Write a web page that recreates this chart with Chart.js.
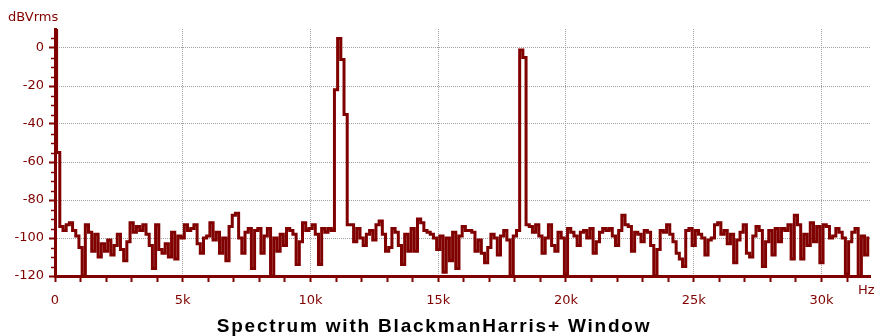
<!DOCTYPE html>
<html><head><meta charset="utf-8">
<script src="https://cdn.jsdelivr.net/npm/chart.js@4.4.0/dist/chart.umd.min.js"></script>
<style>html,body{margin:0;padding:0;background:#fff;overflow:hidden}</style>
</head><body>
<canvas id="c" width="876" height="336"></canvas>
<script>
// ---- data ----
const binWidthHz = 125;               // spacing of the spectrum bins
const levelDb = [
  10, -55, -94,
  -96, -93, -92, -96, -99, -105, -120, -93, -97, -107, -98, -110, -103, -107, -101, -109, -104, -98, -106, -112,
  -102, -92, -97, -94, -96, -93, -98, -104, -116, -93, -106, -108, -103, -110, -97, -111, -99, -100, -93,
  -96,
  -95, -93, -103, -108, -100, -99, -92, -101, -97, -108, -100, -112, -94, -88, -87, -100, -108, -97, -95, -116,
  -96, -95, -108, -99, -95, -120, -100, -107, -98, -104, -95, -96, -98, -114, -102, -92, -96, -95, -93, -98, -114, -95, -97,
  -95, -96, -22, 5, -6, -35, -93,
  -93, -102, -95, -100, -104, -98, -96, -101, -93, -91, -98, -107, -105, -95, -97, -104, -114, -98, -107, -95,
  -107, -90, -92, -96, -97, -98, -100, -106, -99, -118, -100, -112, -97, -116, -99, -94, -96,
  -96, -97, -107, -101, -108, -113, -105, -98, -100, -109, -99, -96, -101, -120, -99, -96, -1, -5, -93, -94,
  -97, -93, -99, -108, -100, -93, -104, -107, -97, -100, -119, -95, -97, -99, -104, -97, -96, -100, -95, -108, -102, -97, -95,
  -96, -95, -99, -104, -96, -88, -93, -94, -107, -97, -98, -102, -96, -97, -104, -120, -106, -96, -97, -93, -98, -102,
  -108, -111, -115, -96, -95, -104, -96, -98, -100, -109, -101, -100, -93, -92, -98, -96, -103, -98, -113, -101, -97, -93,
  -108, -110, -99, -94, -96, -115, -102, -96, -109, -95, -102, -95, -96, -93, -111, -88, -93, -111, -98, -104,
  -92, -102, -94, -113, -93, -94, -100, -99, -95, -97, -100, -119, -102, -97, -95, -120, -99, -109, -100
];
const xMaxHz = 31900;
const xTicksHz = [0, 1000, 2000, 3000, 4000, 5000, 6000, 7000, 8000, 9000, 10000, 11000, 12000, 13000, 14000, 15000,
  16000, 17000, 18000, 19000, 20000, 21000, 22000, 23000, 24000, 25000, 26000, 27000, 28000, 29000, 30000, 31000];
const xMajorTicksHz = [0, 5000, 10000, 15000, 20000, 25000, 30000];
const yMinDb = -120, yMaxDb = 10;
const yMajorTicksDb = [0, -20, -40, -60, -80, -100, -120];
const yMinorTicksDb = [5, -5, -10, -15, -25, -30, -35, -45, -50, -55, -65, -70, -75, -85, -90, -95, -105, -110, -115];
const yUnitLabel = 'dBVrms';
const xUnitLabel = 'Hz';
const chartTitle = 'Spectrum with BlackmanHarris+ Window';

// ---- styling ----
const axisColor = '#800000';
const gridColor = '#a0a0a0';
const tickFont = {family: '"DejaVu Sans"', size: 13};

const points = levelDb.map((v, i) => ({x: i * binWidthHz, y: v}));

const extras = {
  id: 'extras',
  afterDraw(chart) {
    const {ctx, scales: {x, y}} = chart;
    ctx.save();
    ctx.strokeStyle = axisColor;
    ctx.lineWidth = 1.5;
    yMinorTicksDb.forEach(v => {
      const py = Math.round(y.getPixelForValue(v)) + 0.5;
      ctx.beginPath(); ctx.moveTo(y.right - 4, py); ctx.lineTo(y.right, py); ctx.stroke();
    });
    ctx.fillStyle = axisColor;
    ctx.font = '13px "DejaVu Sans"';
    ctx.textBaseline = 'middle';
    ctx.textAlign = 'left';
    ctx.fillText(yUnitLabel, 8, y.top - 11);
    ctx.fillText(xUnitLabel, x.right - 12, x.top + 15);
    // bottom title
    ctx.fillStyle = '#000';
    ctx.font = 'bold 19px "Liberation Sans"';
    ctx.letterSpacing = '1.8px';
    ctx.textAlign = 'center';
    ctx.textBaseline = 'alphabetic';
    ctx.fillText(chartTitle, 434, 332);
    ctx.restore();
  }
};

new Chart(document.getElementById('c'), {
  type: 'line',
  data: {datasets: [{
    data: points,
    borderColor: axisColor,
    borderWidth: 3,
    pointRadius: 0,
    stepped: 'middle',
    fill: false
  }]},
  options: {
    responsive: false,
    devicePixelRatio: 1,
    animation: false,
    layout: {padding: {top: 29, right: 6, left: 0, bottom: 22}},
    plugins: {
      legend: {display: false},
      tooltip: {enabled: false},
      title: {display: false}
    },
    scales: {
      x: {
        type: 'linear', min: 0, max: xMaxHz,
        afterFit: s => { s.height = 38; },
        afterBuildTicks: s => { s.ticks = xTicksHz.map(v => ({value: v})); },
        ticks: {
          autoSkip: false, maxRotation: 0,
          color: axisColor, font: tickFont, padding: 11,
          callback: v => xMajorTicksHz.includes(v) ? (v === 0 ? '0' : (v / 1000) + 'k') : ''
        },
        grid: {
          color: c => (c.tick && xMajorTicksHz.includes(c.tick.value) && c.tick.value !== 0) ? gridColor : 'rgba(0,0,0,0)',
          lineWidth: 1, tickLength: 6, tickColor: axisColor, tickWidth: 2
        },
        border: {display: true, color: axisColor, width: 3, dash: [1, 1]}
      },
      y: {
        min: yMinDb, max: yMaxDb,
        afterFit: s => { s.width = 55; },
        afterBuildTicks: s => { s.ticks = yMajorTicksDb.map(v => ({value: v})); },
        ticks: {color: axisColor, font: tickFont, padding: 5, callback: v => String(v)},
        grid: {
          color: c => (c.tick && c.tick.value !== yMinDb) ? gridColor : 'rgba(0,0,0,0)',
          lineWidth: 1, tickLength: 6, tickColor: axisColor, tickWidth: 2
        },
        border: {display: true, color: axisColor, width: 3, dash: [1, 1]}
      }
    }
  },
  plugins: [extras]
});
</script>
</body></html>
